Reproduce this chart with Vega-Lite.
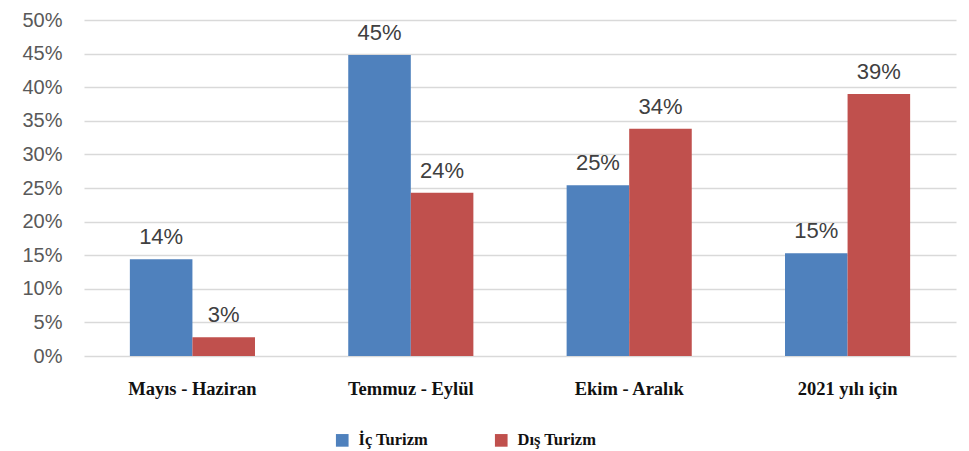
{
  "$schema": "https://vega.github.io/schema/vega-lite/v6.json",
  "width": 872,
  "height": 336,
  "autosize": {"type": "none"},
  "padding": {"left": 84, "top": 20, "right": 13, "bottom": 95},
  "background": "white",
  "config": {"view": {"stroke": null}},
  "data": {
    "values": [
      {"donem": "Mayıs - Haziran", "tur": "İç Turizm", "oran": 0.144},
      {"donem": "Mayıs - Haziran", "tur": "Dış Turizm", "oran": 0.028},
      {"donem": "Temmuz - Eylül", "tur": "İç Turizm", "oran": 0.448},
      {"donem": "Temmuz - Eylül", "tur": "Dış Turizm", "oran": 0.243},
      {"donem": "Ekim - Aralık", "tur": "İç Turizm", "oran": 0.254},
      {"donem": "Ekim - Aralık", "tur": "Dış Turizm", "oran": 0.338},
      {"donem": "2021 yılı için", "tur": "İç Turizm", "oran": 0.153},
      {"donem": "2021 yılı için", "tur": "Dış Turizm", "oran": 0.39}
    ]
  },
  "encoding": {
    "x": {
      "field": "donem", "type": "nominal", "sort": null, "title": null,
      "scale": {"paddingInner": 0.427, "paddingOuter": 0.21},
      "axis": {
        "labelAngle": 0, "domain": false, "ticks": false,
        "labelFont": "Liberation Serif", "labelFontWeight": "bold",
        "labelFontSize": 18.5, "labelColor": "#111111", "labelPadding": 23
      }
    },
    "xOffset": {"field": "tur", "type": "nominal", "sort": ["İç Turizm", "Dış Turizm"], "scale": {"paddingInner": 0, "paddingOuter": 0}},
    "y": {
      "field": "oran", "type": "quantitative", "title": null,
      "scale": {"domain": [0, 0.5], "nice": false},
      "axis": {
        "format": ".0%", "values": [0, 0.05, 0.1, 0.15, 0.2, 0.25, 0.3, 0.35, 0.4, 0.45, 0.5],
        "domain": false, "ticks": false, "labelFont": "Liberation Sans",
        "labelFontSize": 20, "labelColor": "#595959", "labelPadding": 22,
        "gridColor": "#d9d9d9", "gridWidth": 1.5
      }
    }
  },
  "layer": [
    {
      "mark": {"type": "bar"},
      "encoding": {
        "color": {
          "field": "tur", "type": "nominal", "sort": ["İç Turizm", "Dış Turizm"],
          "scale": {"domain": ["İç Turizm", "Dış Turizm"], "range": ["#4F81BD", "#C0504D"]},
          "legend": {
            "title": null, "orient": "none", "legendX": 250, "legendY": 412,
            "direction": "horizontal", "symbolType": "square", "symbolSize": 160,
            "symbolStrokeWidth": 0, "labelFont": "Liberation Serif", "labelFontWeight": "bold",
            "labelFontSize": 16.5, "labelColor": "#111111", "labelOffset": 8, "columnPadding": 64
          }
        }
      }
    },
    {
      "mark": {"type": "text", "baseline": "alphabetic", "dy": -15, "font": "Liberation Sans", "fontSize": 22, "color": "#404040"},
      "encoding": {
        "text": {"field": "oran", "type": "quantitative", "format": ".0%"}
      }
    }
  ]
}
